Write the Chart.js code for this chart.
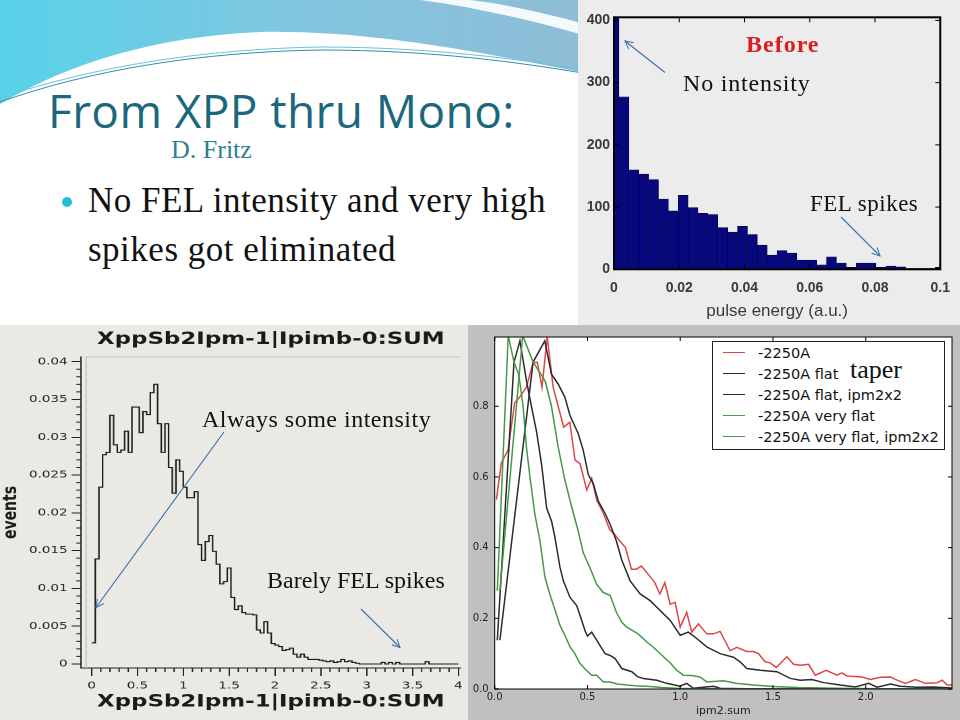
<!DOCTYPE html>
<html lang="en">
<head>
<meta charset="UTF-8">
<title>From XPP thru Mono</title>
<script src="https://cdn.jsdelivr.net/npm/chart.js"></script>
<style>
  body { margin: 0; background: #fff; }
  #slide { position: relative; width: 960px; height: 720px; overflow: hidden; background: #fff; }
  .panel, canvas, .note, svg { position: absolute; }
  .note { white-space: nowrap; line-height: 1; font-family: 'Liberation Serif', serif; color: #111; }
  #ipmLegend { position: absolute; left: 712px; top: 341px; width: 233px; height: 109px; box-sizing: border-box;
    border: 1px solid #222; background: #fff; font-family: 'DejaVu Sans', sans-serif; font-size: 14.5px; color: #111; white-space: nowrap; }
  .lg-row { height: 21px; display: flex; align-items: center; }
  .lg-line { width: 22px; height: 1.5px; margin-left: 10px; margin-right: 13px; }
</style>
</head>
<body>
<div id="slide">
  <svg width="960" height="330" style="left:0;top:0">
    <defs>
      <linearGradient id="sky" x1="0" y1="0" x2="1" y2="0">
        <stop offset="0" stop-color="#57d2ea"/>
        <stop offset="0.5" stop-color="#82c6df"/>
        <stop offset="1" stop-color="#8fbcd6"/>
      </linearGradient>
    </defs>
    <path d="M0,0 H600 V76 C480,52 370,30 260,32 C160,36 70,62 0,104 Z" fill="url(#sky)"/>
    <path d="M420,0 C480,8 540,22 600,40 L600,28 C550,14 505,4 470,0 Z" fill="#fff" opacity="0.9"/>
    <path d="M0,102 C90,70 200,52 320,50 C430,50 520,62 600,76" fill="none" stroke="#2f8fb0" stroke-width="1"/>
    <path d="M0,98 C95,66 205,49 320,47 C430,47 520,59 600,72" fill="none" stroke="#6fc0d8" stroke-width="1"/>
  </svg>

  <div class="note" style="left:48px;top:87px;font-family:'Open Sans',sans-serif;font-size:46px;letter-spacing:0.4px;color:#1b687c">From XPP thru Mono:</div>
  <div class="note" style="left:171px;top:136.5px;font-size:26px;color:#2d7f92">D. Fritz</div>
  <div style="position:absolute;left:62px;top:197px;width:10px;height:10px;border-radius:50%;background:#25bcd6"></div>
  <div class="note" style="left:88px;top:176.4px;font-size:35px;line-height:49px;letter-spacing:0.5px">No FEL intensity and very high<br>spikes got eliminated</div>

  <div class="panel" style="left:578px;top:0;width:382px;height:325px;background:#ececec"></div>
  <canvas id="pulseChart" width="382" height="325" style="left:578px;top:0"></canvas>

  <div class="panel" style="left:0;top:325px;width:468px;height:395px;background:#ebe9e4"></div>
  <canvas id="eventsChart" width="347" height="395" style="left:0;top:325px;transform-origin:0 0;transform:scaleX(1.3487)"></canvas>

  <div class="panel" style="left:468px;top:325px;width:492px;height:395px;background:#c0c0c0"></div>
  <canvas id="ipmChart" width="492" height="395" style="left:468px;top:325px"></canvas>
  <div id="ipmLegend"></div>

  <div class="note" style="left:746px;top:31.6px;font-size:24px;font-weight:bold;letter-spacing:1px;color:#d81e1e">Before</div>
  <div class="note" style="left:683px;top:70.6px;font-size:24px;letter-spacing:0.8px">No intensity</div>
  <div class="note" style="left:810px;top:192.4px;font-size:23px;letter-spacing:0.5px">FEL spikes</div>
  <div class="note" style="left:202px;top:407.4px;font-size:24px;letter-spacing:0.5px">Always some intensity</div>
  <div class="note" style="left:267px;top:568px;font-size:24px">Barely FEL spikes</div>
  <div class="note" style="left:850px;top:357px;font-size:26px">taper</div>

  <svg width="960" height="720" style="left:0;top:0;pointer-events:none">
    <defs>
      <marker id="ah" markerWidth="9" markerHeight="9" refX="8" refY="4.5" orient="auto" markerUnits="userSpaceOnUse">
        <path d="M0,0.5 L8,4.5 L0,8.5" fill="none" stroke="#3b6fa8" stroke-width="1"/>
      </marker>
    </defs>
    <g stroke="#3b6fa8" stroke-width="1.1" fill="none" marker-end="url(#ah)">
      <line x1="665" y1="72.5" x2="625" y2="41"/>
      <line x1="841" y1="217" x2="880" y2="256"/>
      <line x1="224" y1="432" x2="96" y2="607.5"/>
      <line x1="361" y1="609" x2="400" y2="647.5"/>
    </g>
  </svg>
</div>

<script>
  // top right: pulse energy histogram (bin centres start at 0)
  const pulseBinWidth = 0.00303;
  const pulseCounts = [470, 277, 160, 153, 144, 113, 94, 119, 99, 90, 88, 67, 60, 69, 56, 39, 23,
    30, 26, 15, 15, 7, 20, 10, 3, 10, 10, 3, 5, 4, 1, 1, 1, 3];
  const pulseXTicks = [0, 0.02, 0.04, 0.06, 0.08, 0.1];
  const pulseYTicks = [0, 100, 200, 300, 400];

  // bottom left: XppSb2Ipm-1|Ipimb-0:SUM, step histogram, bins start at 0
  const evBinWidth = 0.04;
  const evValues = [
    0.0028, 0.0139, 0.0234, 0.0277, 0.028, 0.0329, 0.029, 0.028, 0.0283, 0.0308,
    0.028, 0.034, 0.034, 0.0306, 0.0334, 0.033, 0.0359, 0.037, 0.0318, 0.028,
    0.0318, 0.026, 0.0226, 0.027, 0.0255, 0.0234, 0.022, 0.022, 0.0228, 0.0158,
    0.0137, 0.0162, 0.017, 0.0149, 0.0132, 0.0106, 0.0109, 0.0127, 0.0088, 0.0072,
    0.0077, 0.0068, 0.0066, 0.0066, 0.0065, 0.0045, 0.0041, 0.0056, 0.0041, 0.0027,
    0.0025, 0.0023, 0.0018, 0.0019, 0.0021, 0.0013, 0.0009, 0.0013, 0.0009, 0.0006,
    0.0006, 0.0006, 0.0005, 0.0004, 0.0003, 0.0004, 0.0002, 0.0003, 0.0006, 0.0003,
    0.0004, 0.0002, 0.0001, 0, 0, 0, 0, 0, 0, 0.0002,
    0, 0.0002, 0, 0.0002, 0, 0, 0, 0, 0, 0,
    0, 0.0003, 0, 0, 0, 0, 0, 0, 0, 0];
  const evXTicks = [0, 0.5, 1, 1.5, 2, 2.5, 3, 3.5, 4];
  const evYTicks = [0, 0.005, 0.01, 0.015, 0.02, 0.025, 0.03, 0.035, 0.04];

  // bottom right: ipm2.sum distributions
  const seriesNames = ['-2250A', '-2250A flat', '-2250A flat, ipm2x2', '-2250A very flat', '-2250A very flat, ipm2x2'];
  const aX = [0.009, 0.036, 0.072, 0.108, 0.135, 0.171, 0.207, 0.23, 0.255, 0.283, 0.315, 0.342, 0.372, 0.405,
    0.433, 0.46, 0.496, 0.523, 0.55, 0.585, 0.62, 0.647, 0.674, 0.705, 0.737, 0.764, 0.791, 0.827, 0.863, 0.89,
    0.917, 0.946, 0.973, 1.0, 1.035, 1.062, 1.098, 1.143, 1.179, 1.215, 1.269, 1.305, 1.359, 1.395, 1.422, 1.458,
    1.485, 1.518, 1.575, 1.611, 1.647, 1.692, 1.728, 1.787, 1.845, 1.872, 1.899, 1.98, 2.025, 2.079, 2.133,
    2.169, 2.214, 2.268, 2.322, 2.385, 2.412, 2.439, 2.466];
  const aY = [0.536, 0.64, 0.676, 0.81, 0.826, 0.854, 0.924, 0.924, 0.854, 0.996, 0.854, 0.8, 0.741, 0.755,
    0.648, 0.638, 0.563, 0.596, 0.535, 0.498, 0.451, 0.437, 0.419, 0.4, 0.339, 0.339, 0.348, 0.325, 0.301, 0.269,
    0.301, 0.24, 0.245, 0.175, 0.217, 0.161, 0.184, 0.156, 0.156, 0.163, 0.108, 0.118, 0.106, 0.106, 0.1, 0.077,
    0.074, 0.061, 0.091, 0.07, 0.067, 0.07, 0.039, 0.053, 0.039, 0.046, 0.037, 0.034, 0.027, 0.033, 0.034,
    0.025, 0.016, 0.027, 0.016, 0.018, 0.025, 0.011, 0.011];
  const flatX = [0.014, 0.104, 0.136, 0.171, 0.198, 0.226, 0.253, 0.28, 0.307, 0.325, 0.352, 0.37, 0.406, 0.442,
    0.465, 0.487, 0.5, 0.523, 0.568, 0.595, 0.622, 0.649, 0.685, 0.739, 0.77, 0.802, 0.874, 0.927, 0.999, 1.035,
    1.071, 1.179, 1.215, 1.35, 1.6, 2.0, 2.465];
  const flatY = [0.138, 0.925, 0.985, 0.873, 0.8, 0.727, 0.634, 0.512, 0.474, 0.428, 0.344, 0.306, 0.259, 0.236,
    0.2, 0.165, 0.15, 0.161, 0.123, 0.1, 0.095, 0.086, 0.058, 0.049, 0.035, 0.03, 0.025, 0.016, 0.008, 0.016,
    0.002, 0.008, 0.002, 0.001, 0, 0, 0];
  const flat2X = [0.028, 0.207, 0.27, 0.306, 0.342, 0.378, 0.406, 0.45, 0.477, 0.505, 0.531, 0.559, 0.594, 0.622,
    0.655, 0.685, 0.73, 0.784, 0.838, 0.892, 0.946, 1.0, 1.044, 1.089, 1.143, 1.215, 1.287, 1.323, 1.359, 1.431,
    1.521, 1.593, 1.647, 1.71, 1.773, 1.863, 1.944, 2.016, 2.061, 2.133, 2.187, 2.277, 2.367, 2.465];
  const flat2Y = [0.138, 0.925, 0.985, 0.891, 0.863, 0.826, 0.774, 0.723, 0.676, 0.606, 0.582, 0.531, 0.498, 0.466,
    0.42, 0.365, 0.306, 0.269, 0.25, 0.222, 0.194, 0.152, 0.161, 0.143, 0.119, 0.1, 0.09, 0.077, 0.058, 0.053,
    0.049, 0.03, 0.025, 0.027, 0.018, 0.011, 0.006, 0.016, 0.005, 0.014, 0.008, 0.005, 0.006, 0.003];
  const vflatX = [0.014, 0.073, 0.104, 0.13, 0.153, 0.171, 0.19, 0.217, 0.244, 0.271, 0.293, 0.315, 0.352, 0.38,
    0.406, 0.432, 0.46, 0.49, 0.523, 0.55, 0.586, 0.622, 0.66, 0.712, 0.76, 0.838, 0.9, 0.981, 1.1, 1.3, 1.6, 2.0, 2.465];
  const vflatY = [0.278, 1.0, 0.925, 0.89, 0.8, 0.685, 0.6, 0.493, 0.419, 0.316, 0.275, 0.24, 0.18, 0.15,
    0.119, 0.1, 0.072, 0.055, 0.039, 0.039, 0.02, 0.02, 0.014, 0.011, 0.009, 0.007, 0.004, 0.002, 0.001, 0, 0, 0, 0];
  const vflat2X = [0.028, 0.151, 0.207, 0.25, 0.273, 0.306, 0.342, 0.378, 0.414, 0.45, 0.477, 0.513, 0.549, 0.585,
    0.622, 0.656, 0.685, 0.712, 0.773, 0.82, 0.854, 0.9, 0.944, 0.981, 1.017, 1.062, 1.107, 1.143, 1.233, 1.3,
    1.395, 1.5, 1.637, 1.835, 2.1, 2.465];
  const vflat2Y = [0.278, 1.0, 0.925, 0.89, 0.87, 0.8, 0.685, 0.592, 0.517, 0.447, 0.386, 0.344, 0.297, 0.273,
    0.265, 0.217, 0.189, 0.175, 0.156, 0.133, 0.119, 0.096, 0.075, 0.053, 0.039, 0.038, 0.034, 0.02, 0.023, 0.016,
    0.011, 0.007, 0.004, 0.002, 0.001, 0];
  const ipmXTicks = [0, 0.5, 1, 1.5, 2];
  const ipmYTicks = [0, 0.2, 0.4, 0.6, 0.8];

  const seriesColors = ['#dc4848', '#2b2b2b', '#2b2b2b', '#479847', '#479847'];

  Chart.defaults.font.family = "'DejaVu Sans', sans-serif";
  Chart.defaults.color = '#222';
  Chart.defaults.animation = false;

  const setTicks = list => scale => { scale.ticks = list.map(v => ({ value: v })); };
  const pts = (xs, ys) => xs.map((x, i) => ({ x: x, y: ys[i] }));

  // frame with inward tick marks, used by the two right-hand charts
  function boxFrame(width, tickLen) {
    return {
      id: 'boxFrame',
      afterDatasetsDraw(chart) {
        const { ctx, chartArea: a, scales: { x, y } } = chart;
        ctx.save();
        ctx.strokeStyle = '#000';
        ctx.lineWidth = width;
        ctx.strokeRect(a.left, a.top, a.right - a.left, a.bottom - a.top);
        ctx.lineWidth = 1;
        ctx.beginPath();
        x.ticks.forEach(t => {
          const px = x.getPixelForValue(t.value);
          ctx.moveTo(px, a.top); ctx.lineTo(px, a.top + tickLen);
          ctx.moveTo(px, a.bottom); ctx.lineTo(px, a.bottom - tickLen);
        });
        y.ticks.forEach(t => {
          const py = y.getPixelForValue(t.value);
          ctx.moveTo(a.left, py); ctx.lineTo(a.left + tickLen, py);
          ctx.moveTo(a.right, py); ctx.lineTo(a.right - tickLen, py);
        });
        ctx.stroke();
        ctx.restore();
      }
    };
  }

  const pulseFont = { family: "'Liberation Sans', sans-serif", size: 14, weight: 'bold' };
  new Chart(document.getElementById('pulseChart'), {
    type: 'bar',
    data: {
      datasets: [{
        data: pulseCounts.map((v, i) => ({ x: i * pulseBinWidth, y: v })),
        backgroundColor: '#08087e',
        borderColor: '#00003a',
        borderWidth: 0.6,
        barPercentage: 1,
        categoryPercentage: 1
      }]
    },
    options: {
      responsive: false,
      layout: { padding: { top: 17.3, right: 15.3, left: 0, bottom: 0 } },
      plugins: { legend: { display: false }, tooltip: { enabled: false } },
      scales: {
        x: {
          type: 'linear', min: 0, max: 0.1, offset: false,
          afterBuildTicks: setTicks(pulseXTicks),
          afterFit: s => { s.height = 55.7; },
          grid: { display: false, drawTicks: false, offset: false },
          border: { display: false },
          ticks: { padding: 10, font: pulseFont, color: '#3a3a3a', autoSkip: false, maxRotation: 0, callback: v => String(v) },
          title: { display: true, text: 'pulse energy (a.u.)', color: '#3a3a3a',
            font: { family: "'Liberation Sans', sans-serif", size: 17 }, padding: { top: 0, bottom: 3 } }
        },
        y: {
          min: 0, max: 405,
          afterBuildTicks: setTicks(pulseYTicks),
          afterFit: s => { s.width = 36; },
          grid: { display: false, drawTicks: false },
          border: { display: false },
          ticks: { padding: 4, font: pulseFont, color: '#3a3a3a', autoSkip: false }
        }
      }
    },
    plugins: [boxFrame(2, 5)]
  });

  const evAxes = {
    id: 'evAxes',
    beforeDatasetsDraw(chart) {
      const { ctx, chartArea: a } = chart;
      ctx.save();
      ctx.strokeStyle = '#cbc9c4';
      ctx.lineWidth = 1.2;
      ctx.beginPath();
      ctx.moveTo(a.left + 3.7, a.bottom);
      ctx.lineTo(a.left + 3.7, a.top);
      ctx.lineTo(a.right, a.top);
      ctx.stroke();
      ctx.restore();
    },
    afterDraw(chart) {
      const { ctx, chartArea: a, scales: { x, y } } = chart;
      ctx.save();
      ctx.strokeStyle = '#222';
      ctx.lineWidth = 1;
      ctx.beginPath();
      for (let k = 1; k < 40; k++) {
        if (k % 5 === 0) continue;
        const py = y.getPixelForValue(k * 0.001);
        ctx.moveTo(a.left, py); ctx.lineTo(a.left - 3.5, py);
        const px = x.getPixelForValue(k * 0.1);
        ctx.moveTo(px, a.bottom); ctx.lineTo(px, a.bottom + 4);
      }
      ctx.stroke();
      ctx.restore();
    }
  };

  const evPoints = evValues.map((v, i) => ({ x: i * evBinWidth, y: v }));
  evPoints.push({ x: evValues.length * evBinWidth, y: evValues[evValues.length - 1] });

  new Chart(document.getElementById('eventsChart'), {
    type: 'line',
    data: {
      datasets: [{
        data: evPoints,
        stepped: true,
        borderColor: '#1a1a1a',
        borderWidth: 1.1,
        pointRadius: 0,
        fill: false
      }]
    },
    options: {
      responsive: false,
      devicePixelRatio: 2,
      layout: { padding: { top: 0, right: 2.2, left: 0, bottom: 0 } },
      plugins: {
        legend: { display: false }, tooltip: { enabled: false },
        title: { display: true, text: 'XppSb2Ipm-1|Ipimb-0:SUM', fullSize: false, color: '#1a1a1a',
          font: { size: 17, weight: 'bold' }, padding: { top: 4.3, bottom: 7.3 } }
      },
      scales: {
        x: {
          type: 'linear', min: -0.115, max: 4.025,
          afterBuildTicks: setTicks(evXTicks),
          afterFit: s => { s.height = 52; },
          grid: { drawOnChartArea: false, tickLength: 8, color: '#222' },
          border: { color: '#222' },
          ticks: { padding: 4, font: { size: 10 }, color: '#222', autoSkip: false, maxRotation: 0, callback: v => String(v) },
          title: { display: true, text: 'XppSb2Ipm-1|Ipimb-0:SUM', color: '#1a1a1a',
            font: { size: 17, weight: 'bold' }, padding: { top: 0, bottom: 7.8 } }
        },
        y: {
          min: -0.00053, max: 0.04062,
          afterBuildTicks: setTicks(evYTicks),
          afterFit: s => { s.width = 60.1; },
          grid: { drawOnChartArea: false, tickLength: 7, color: '#222' },
          border: { color: '#222' },
          ticks: { padding: 3, font: { size: 10 }, color: '#222', autoSkip: false, callback: v => String(v) },
          title: { display: true, text: 'events', color: '#1a1a1a',
            font: { size: 14, weight: 'bold' }, padding: { top: 0, bottom: 0 } }
        }
      }
    },
    plugins: [evAxes]
  });

  const whiteArea = {
    id: 'whiteArea',
    beforeDraw(chart) {
      const { ctx, chartArea: a } = chart;
      ctx.save();
      ctx.fillStyle = '#fff';
      ctx.fillRect(a.left, a.top, a.right - a.left, a.bottom - a.top);
      ctx.restore();
    }
  };

  const ipmSeries = [[aX, aY], [flatX, flatY], [flat2X, flat2Y], [vflatX, vflatY], [vflat2X, vflat2Y]];
  const ipmChart = new Chart(document.getElementById('ipmChart'), {
    type: 'line',
    data: {
      datasets: ipmSeries.map((s, i) => ({
        label: seriesNames[i],
        data: pts(s[0], s[1]),
        borderColor: seriesColors[i],
        borderWidth: 1.5,
        pointRadius: 0,
        tension: 0,
        fill: false,
        order: ipmSeries.length - i
      }))
    },
    options: {
      responsive: false,
      layout: { padding: { top: 9.3, right: 8, left: 0, bottom: 0 } },
      plugins: { legend: { display: false }, tooltip: { enabled: false } },
      scales: {
        x: {
          type: 'linear', min: 0, max: 2.465,
          afterBuildTicks: setTicks(ipmXTicks),
          afterFit: s => { s.height = 31; },
          grid: { display: false, drawTicks: false },
          border: { display: false },
          ticks: { padding: 2, font: { size: 10 }, color: '#222', autoSkip: false, maxRotation: 0, callback: v => v.toFixed(1) },
          title: { display: true, text: 'ipm2.sum', color: '#222', font: { size: 11 }, padding: { top: 0, bottom: 2.7 } }
        },
        y: {
          min: 0, max: 0.996,
          afterBuildTicks: setTicks(ipmYTicks),
          afterFit: s => { s.width = 26.7; },
          grid: { display: false, drawTicks: false },
          border: { display: false },
          ticks: { padding: 6, font: { size: 10 }, color: '#222', autoSkip: false, callback: v => v.toFixed(1) }
        }
      }
    },
    plugins: [whiteArea, boxFrame(1, 4)]
  });

  const legendBox = document.getElementById('ipmLegend');
  ipmChart.data.datasets.forEach(ds => {
    const row = document.createElement('div');
    row.className = 'lg-row';
    row.innerHTML = '<span class="lg-line" style="background:' + ds.borderColor + '"></span><span>' + ds.label + '</span>';
    legendBox.appendChild(row);
  });
</script>
</body>
</html>
